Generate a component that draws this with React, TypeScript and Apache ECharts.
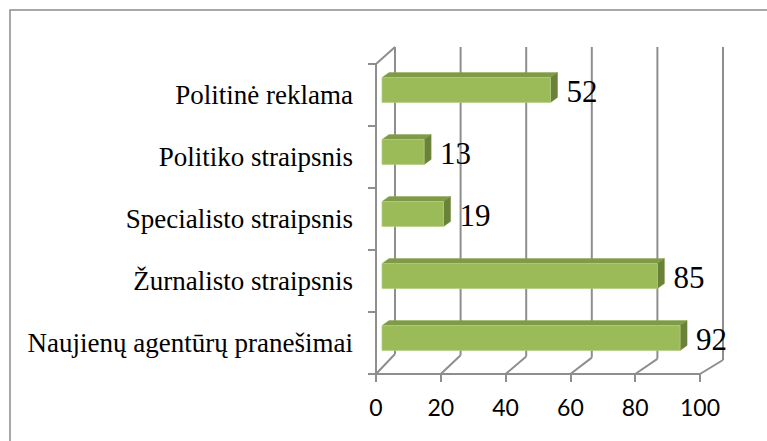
import React, { useEffect, useRef } from "react";
import * as echarts from "echarts";

const categories = [
  "Naujienų agentūrų pranešimai",
  "Žurnalisto straipsnis",
  "Specialisto straipsnis",
  "Politiko straipsnis",
  "Politinė reklama",
];
const values = [92, 85, 19, 13, 52];
const xTicks = [0, 20, 40, 60, 80, 100];

const GRID = "#8e8e8e";

export default function App() {
  const ref = useRef<HTMLDivElement>(null);
  useEffect(() => {
    if (!ref.current) return;
    const chart = echarts.init(ref.current, undefined, { renderer: "svg" });
    const backOff = (t: number) => [19 + (4 * t) / 100, -20 + (6 * t) / 100];
    const wallTop = 47;

    const option: any = {
      animation: false,
      backgroundColor: "#ffffff",
      graphic: [
        {
          type: "rect",
          shape: { x: 10, y: 10, width: 900, height: 600 },
          style: { fill: "none", stroke: "#8c8c8c", lineWidth: 1.5 },
          z: 0,
        },
      ],
      grid: { left: 376, top: 64, width: 324, height: 310, containLabel: false },
      xAxis: {
        type: "value",
        min: 0,
        max: 100,
        interval: 20,
        axisLine: { show: true, lineStyle: { color: GRID, width: 2 } },
        axisTick: { show: true, length: 8, lineStyle: { color: GRID, width: 2 } },
        splitLine: { show: false },
        axisLabel: {
          margin: 21,
          color: "#000",
          fontFamily: "Lato",
          fontSize: 23,
          formatter: (v: number) => (xTicks.includes(v) ? String(v) : ""),
        },
      },
      yAxis: {
        type: "category",
        data: categories,
        axisLine: { show: true, lineStyle: { color: GRID, width: 2 } },
        axisTick: { show: true, length: 8, lineStyle: { color: GRID, width: 2 } },
        splitLine: { show: false },
        axisLabel: {
          margin: 23,
          color: "#000",
          fontFamily: "Liberation Serif",
          fontSize: 27,
        },
      },
      series: [
        {
          type: "custom",
          name: "walls",
          clip: false,
          z: 1,
          silent: true,
          data: [[0, 0]],
          encode: { x: 0, y: 1 },
          renderItem: (params: any, api: any) => {
            const cs = params.coordSys;
            const floorY = cs.y + cs.height;
            const topY = cs.y;
            const children: any[] = [];
            const ls = { stroke: GRID, lineWidth: 2 };
            xTicks.forEach((t) => {
              const fx = api.coord([t, 0])[0];
              const [dx, dy] = backOff(t);
              const bx = fx + dx;
              const by = floorY + dy;
              children.push({
                type: "line",
                shape: { x1: bx, y1: wallTop, x2: bx, y2: by },
                style: ls,
              });
              children.push({
                type: "line",
                shape: { x1: fx, y1: floorY, x2: bx, y2: by },
                style: ls,
              });
            });
            const lx = api.coord([0, 0])[0];
            const [dx0] = backOff(0);
            children.push({
              type: "line",
              shape: { x1: lx, y1: topY, x2: lx + dx0, y2: wallTop },
              style: ls,
            });
            return { type: "group", children };
          },
        },
        {
          type: "custom",
          name: "bars",
          clip: false,
          z: 3,
          data: values.map((v, i) => [v, i]),
          encode: { x: 0, y: 1 },
          renderItem: (params: any, api: any) => {
            const v = api.value(0);
            const c = api.value(1);
            const p0 = api.coord([0, c]);
            const p1 = api.coord([v, c]);
            const band = api.size([0, 1])[1];
            const h = band * 0.4;
            const ox = 6;
            const oy = -5;
            const x0 = p0[0] + ox;
            const x1 = p1[0] + ox;
            const cy = p0[1] + oy;
            const yT = cy - h / 2;
            const yB = cy + h / 2;
            const dx = 7;
            const dy = -5;
            return {
              type: "group",
              children: [
                {
                  type: "polygon",
                  shape: {
                    points: [
                      [x0, yT],
                      [x1, yT],
                      [x1 + dx, yT + dy],
                      [x0 + dx, yT + dy],
                    ],
                  },
                  style: { fill: "#7f9b47", stroke: "#8aa653", lineWidth: 0.5 },
                },
                {
                  type: "polygon",
                  shape: {
                    points: [
                      [x1, yT],
                      [x1 + dx, yT + dy],
                      [x1 + dx, yB + dy],
                      [x1, yB],
                    ],
                  },
                  style: { fill: "#6a8238", stroke: "#768f40", lineWidth: 0.5 },
                },
                {
                  type: "rect",
                  shape: { x: x0, y: yT, width: x1 - x0, height: h },
                  style: { fill: "#9bbb59", stroke: "#b3cd82", lineWidth: 0.8 },
                },
                {
                  type: "text",
                  style: {
                    x: x1 + dx + 9,
                    y: cy + 1,
                    text: String(v),
                    fill: "#000",
                    font: "31px 'Liberation Serif'",
                    align: "left",
                    verticalAlign: "middle",
                  },
                },
              ],
            };
          },
        },
      ],
    };
    chart.setOption(option);
    return () => chart.dispose();
  }, []);
  return (
    <div
      ref={ref}
      style={{ position: "absolute", left: 0, top: 0, width: 767, height: 441 }}
    />
  );
}
